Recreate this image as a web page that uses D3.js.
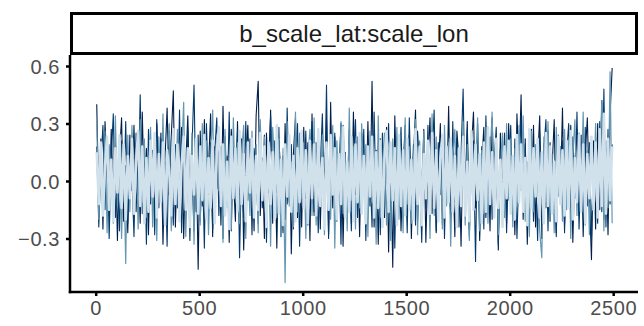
<!DOCTYPE html>
<meta charset="utf-8">
<style>
body { margin: 0; background: #fff; }
text { font-family: "Liberation Sans", Arial, Helvetica, sans-serif; }
.line { fill: none; stroke-linejoin: round; }
</style>
<body>
<script src="https://d3js.org/d3.v7.min.js"></script>
<script>

// one value every 10 iterations
const iterations = d3.range(5, 2500, 10);

const chain1 = [
  0.40,-0.12,0.22,-0.25,0.31,0.05,-0.18,0.27,-0.08,0.19,-0.31,0.14,0.33,-0.21,0.08,-0.27,0.24,-0.05,0.29,-0.16,0.11,-0.22,0.36,-0.09,0.17,
  -0.28,0.21,0.04,-0.19,0.30,-0.14,0.25,-0.33,0.12,0.38,-0.07,0.23,0.47,-0.24,0.15,-0.11,0.28,-0.30,0.09,0.34,-0.17,0.06,-0.26,0.20,-0.46,
  0.26,-0.13,0.32,-0.20,0.07,0.35,-0.29,0.18,-0.04,0.24,-0.23,0.39,-0.10,0.13,-0.32,0.27,0.02,-0.21,0.31,-0.15,0.22,-0.36,0.10,0.29,-0.08,
  0.19,-0.26,0.34,0.52,-0.18,0.12,-0.30,0.25,-0.06,0.37,-0.22,0.16,-0.35,0.21,0.03,-0.27,0.30,-0.12,0.24,-0.38,0.14,0.33,-0.19,0.08,-0.24,
  0.28,-0.09,0.20,-0.31,0.35,-0.16,0.11,0.26,-0.25,0.17,-0.03,0.32,-0.28,0.41,-0.14,0.23,-0.20,0.06,0.30,-0.34,0.15,-0.11,0.27,-0.22,0.36,
  -0.07,0.19,-0.29,0.25,0.09,-0.18,0.31,-0.13,0.52,-0.24,0.16,-0.33,0.22,0.04,-0.19,0.28,-0.37,0.13,-0.45,0.34,-0.10,0.21,-0.26,0.07,0.29,
  -0.15,0.24,-0.30,0.12,0.37,-0.21,0.18,-0.08,0.27,-0.32,0.10,0.33,-0.17,0.22,-0.27,0.05,0.30,-0.23,0.15,-0.12,0.39,-0.20,0.08,-0.29,0.26,
  0.11,-0.34,0.23,-0.06,0.31,-0.25,0.17,0.36,-0.14,0.20,-0.31,0.09,0.28,-0.19,0.14,-0.26,0.33,-0.03,0.21,-0.36,0.25,-0.11,0.18,-0.22,0.30,
  -0.16,0.13,-0.28,0.35,0.06,0.45,-0.20,0.22,-0.33,0.16,-0.09,0.29,-0.24,0.11,0.34,-0.30,0.19,-0.14,0.26,-0.21,0.07,0.32,-0.27,0.15,-0.05,
  0.38,-0.23,0.20,-0.13,0.29,-0.32,0.10,0.27,-0.18,0.24,-0.29,0.14,0.33,-0.08,-0.41,0.21,-0.25,0.30,-0.15,0.42,-0.20,0.17,-0.28,0.35,0.59
];

const chain2 = [
  0.18,-0.24,0.09,0.29,-0.15,0.23,-0.30,0.12,0.35,-0.19,0.06,-0.26,0.21,-0.11,0.31,-0.22,0.14,0.02,-0.29,0.25,-0.08,0.45,-0.17,0.20,-0.33,
  0.27,-0.12,0.16,-0.28,0.32,-0.05,0.22,-0.20,0.10,-0.34,0.26,0.04,-0.23,0.19,-0.14,0.37,-0.27,0.13,-0.09,0.28,-0.31,0.17,0.50,-0.16,0.24,
  -0.21,0.11,-0.35,0.30,-0.07,0.20,-0.25,0.15,0.33,-0.18,0.08,-0.30,0.23,-0.12,0.36,-0.26,0.18,-0.03,0.27,-0.40,0.12,-0.19,0.31,-0.10,0.22,
  -0.28,0.17,0.05,-0.22,0.29,-0.14,0.24,-0.32,0.10,0.34,-0.17,0.21,-0.06,0.28,-0.29,0.13,-0.20,0.38,-0.11,0.19,-0.25,0.07,0.30,-0.34,0.16,
  -0.09,0.26,-0.23,0.12,0.31,-0.18,0.20,-0.27,0.08,0.35,-0.13,0.50,-0.30,0.17,-0.04,0.25,-0.21,0.14,-0.33,0.29,0.03,-0.16,0.22,-0.26,0.11,
  0.32,-0.19,0.15,-0.08,0.27,-0.31,0.21,0.06,-0.24,0.36,-0.12,0.18,-0.28,0.25,-0.15,0.09,0.30,-0.22,0.13,-0.35,0.23,-0.02,0.28,-0.18,0.10,
  -0.27,0.33,-0.10,0.19,-0.23,0.26,0.07,-0.32,0.16,-0.14,0.29,-0.20,0.12,0.37,-0.26,0.20,-0.07,0.24,-0.30,0.15,0.04,-0.19,0.31,-0.11,0.22,
  -0.24,0.14,0.48,-0.16,0.27,-0.29,0.09,0.21,-0.42,0.30,-0.12,0.18,-0.25,0.34,-0.06,0.23,-0.20,0.11,0.28,-0.33,0.17,-0.09,0.25,-0.27,0.13,
  0.29,-0.18,0.22,-0.30,0.08,0.34,-0.14,0.19,-0.24,0.12,0.27,-0.21,0.05,-0.31,0.25,-0.10,0.16,0.32,-0.26,0.20,-0.16,0.10,-0.29,0.24,-0.06,
  0.21,-0.27,0.14,0.30,-0.17,0.23,-0.09,0.36,-0.25,0.11,-0.19,0.28,-0.13,0.20,-0.32,0.15,0.04,-0.22,0.31,-0.16,0.48,-0.24,0.27,-0.12,0.19
];

const chain3 = [
  0.31,-0.20,0.13,-0.08,0.26,-0.27,0.19,0.04,-0.22,0.34,-0.13,0.21,-0.30,0.10,-0.43,0.24,-0.16,0.29,-0.05,0.17,-0.25,0.32,-0.11,0.22,-0.19,
  0.08,0.28,-0.24,0.16,-0.31,0.23,-0.10,0.35,-0.18,0.12,0.30,-0.26,0.19,-0.07,0.27,-0.21,0.14,0.41,-0.29,0.06,-0.15,0.25,-0.33,0.18,0.03,
  -0.23,0.30,-0.12,0.21,-0.28,0.11,0.37,-0.17,0.24,-0.05,0.18,-0.32,0.27,-0.14,0.09,-0.25,0.33,-0.08,0.20,-0.22,0.15,0.29,-0.30,0.12,-0.18,
  0.26,-0.11,0.19,-0.27,0.32,-0.06,0.23,-0.21,0.14,-0.34,0.28,0.07,-0.19,0.22,-0.29,0.17,-0.53,0.31,-0.13,0.10,-0.24,0.36,-0.16,0.25,-0.09,
  0.20,-0.30,0.12,0.27,-0.18,0.33,-0.23,0.09,-0.12,0.24,-0.28,0.17,0.05,-0.20,0.29,-0.35,0.21,-0.07,0.31,-0.17,0.14,-0.26,0.38,-0.10,0.18,
  -0.25,0.23,-0.14,0.30,-0.04,0.19,-0.29,0.26,-0.11,0.13,-0.33,0.34,-0.19,0.08,0.25,-0.23,0.16,-0.31,0.22,-0.08,0.28,-0.20,0.11,-0.27,0.33,
  -0.12,0.18,-0.22,0.09,0.32,-0.28,0.21,-0.15,0.26,-0.06,0.14,-0.30,0.35,-0.18,0.23,-0.09,0.17,-0.25,0.29,-0.13,0.20,-0.34,0.12,0.27,-0.20,
  0.15,-0.07,0.31,-0.23,0.19,-0.31,0.24,-0.12,0.08,0.33,-0.26,0.16,-0.17,0.28,-0.22,0.11,0.36,-0.14,0.21,-0.28,0.06,0.25,-0.19,0.30,-0.10,
  0.22,-0.24,0.17,-0.13,0.29,-0.05,0.34,-0.21,0.10,-0.29,0.26,-0.16,0.19,0.02,-0.26,-0.40,0.23,-0.11,0.31,-0.20,0.14,-0.27,0.28,-0.08,0.18,
  -0.21,0.27,-0.15,0.20,-0.30,0.13,0.32,-0.18,0.25,-0.07,0.36,-0.23,0.16,-0.28,0.22,-0.12,0.30,-0.19,0.09,0.42,-0.26,0.21,-0.14,0.57,-0.22
];

const chain4 = [
  0.15,-0.12,0.20,-0.18,0.08,0.23,-0.15,0.11,-0.21,0.17,-0.06,0.24,-0.14,0.19,-0.20,0.13,-0.09,0.22,-0.17,0.10,0.26,-0.13,0.18,-0.22,0.12,
  -0.16,0.21,-0.08,0.25,-0.19,0.14,-0.11,0.20,-0.23,0.16,0.05,-0.18,0.27,-0.12,0.19,-0.21,0.09,0.23,-0.15,0.17,-0.24,0.13,-0.07,0.22,-0.17,
  0.18,-0.10,0.24,-0.20,0.12,-0.14,0.21,-0.22,0.16,0.28,-0.13,0.19,-0.18,0.10,-0.25,0.23,-0.09,0.17,-0.16,0.26,-0.12,0.14,-0.21,0.20,-0.06,
  0.22,-0.19,0.13,-0.15,0.25,-0.10,0.18,-0.24,0.20,-0.12,0.15,-0.20,0.29,-0.17,0.11,-0.23,0.19,-0.08,0.24,-0.16,0.13,-0.21,0.17,-0.11,0.26,
  -0.14,0.16,-0.22,0.21,-0.09,0.19,-0.18,0.27,-0.13,0.12,-0.25,0.20,-0.15,0.24,-0.07,0.17,-0.20,0.14,-0.12,0.28,-0.19,0.10,-0.16,0.23,-0.21,
  0.19,-0.11,0.25,-0.17,0.13,-0.22,0.18,-0.08,0.23,-0.19,0.15,-0.14,0.21,-0.24,0.12,0.26,-0.16,0.20,-0.10,0.17,-0.23,0.24,-0.13,0.16,-0.18,
  0.22,-0.15,0.11,-0.20,0.27,-0.12,0.18,-0.23,0.14,-0.09,0.21,-0.17,0.25,-0.14,0.16,-0.21,0.12,0.24,-0.19,0.18,-0.11,0.22,-0.16,0.13,-0.24,
  0.17,-0.13,0.23,-0.18,0.10,-0.21,0.26,-0.15,0.19,-0.10,0.14,-0.22,0.20,-0.16,0.28,-0.12,0.15,-0.19,0.22,-0.14,0.11,-0.24,0.18,-0.09,0.21,
  -0.17,0.13,-0.20,0.24,-0.11,0.19,-0.16,0.12,-0.23,0.27,-0.14,0.17,-0.08,0.22,-0.19,0.15,-0.22,0.25,-0.13,0.18,-0.17,0.10,-0.21,0.23,-0.12,
  0.16,-0.18,0.21,-0.14,0.26,-0.20,0.12,-0.11,0.24,-0.16,0.19,-0.22,0.14,-0.09,0.23,-0.15,0.20,-0.19,0.27,-0.13,0.35,-0.17,0.22,-0.10,0.18
];

const chainColors = ["#011f4b", "#03396c", "#6497b1", "#d1e1ec"];
const chainWidths = [1.1, 1.1, 1.2, 2.6];
const xTicks = [0, 500, 1000, 1500, 2000, 2500];
const yTicks = [-0.3, 0.0, 0.3, 0.6];
const stripLabel = "b_scale_lat:scale_lon";

const width = 644, height = 326;
const panel = {left: 70, right: 638, top: 55, bottom: 292};

const svg = d3.select("body").append("svg")
    .attr("width", width)
    .attr("height", height);

const x = d3.scaleLinear()
    .domain([0, 2500])
    .range([95.7, 613.2]);

const y = d3.scaleLinear()
    .domain([-0.6, 0.6])
    .range([296, 66]);

const line = d3.line()
    .x((d, i) => x(iterations[i]))
    .y(d => y(d));

// chains, first drawn first, light one on top
svg.append("g")
  .selectAll("path")
  .data([chain1, chain2, chain3, chain4])
  .join("path")
    .attr("class", "line")
    .attr("d", line)
    .attr("stroke", (d, i) => chainColors[i])
    .attr("stroke-width", (d, i) => chainWidths[i]);

// strip
svg.append("rect")
    .attr("x", panel.left + 1.5)
    .attr("y", 13.5)
    .attr("width", panel.right - panel.left - 3)
    .attr("height", 40)
    .attr("fill", "#fff")
    .attr("stroke", "#000")
    .attr("stroke-width", 3);

svg.append("text")
    .attr("x", (panel.left + panel.right) / 2)
    .attr("y", 42)
    .attr("text-anchor", "middle")
    .attr("font-size", 24)
    .attr("fill", "#1a1a1a")
    .text(stripLabel);

// axes
const yAxis = d3.axisLeft(y)
    .tickValues(yTicks)
    .tickFormat(d3.format(".1f"))
    .tickSize(4)
    .tickPadding(6);

const xAxis = d3.axisBottom(x)
    .tickValues(xTicks)
    .tickFormat(d3.format("d"))
    .tickSize(4)
    .tickPadding(5);

const gy = svg.append("g")
    .attr("transform", `translate(${panel.left},0)`)
    .call(yAxis);

const gx = svg.append("g")
    .attr("transform", `translate(0,${panel.bottom})`)
    .call(xAxis);

[gx, gy].forEach(g => {
  g.select(".domain").remove();
  g.selectAll(".tick line").attr("stroke", "#000").attr("stroke-width", 2.5);
  g.selectAll(".tick text")
      .attr("font-size", 20)
      .attr("letter-spacing", 0.6)
      .attr("fill", "#4d4d4d")
      .attr("font-family", "'Liberation Sans', Arial, sans-serif");
});

gy.selectAll(".tick text").attr("dy", "0.36em");

svg.append("line")
    .attr("x1", panel.left).attr("x2", panel.left)
    .attr("y1", panel.top).attr("y2", panel.bottom + 1.2)
    .attr("stroke", "#000").attr("stroke-width", 2.5);

svg.append("line")
    .attr("x1", panel.left - 1.2).attr("x2", panel.right)
    .attr("y1", panel.bottom).attr("y2", panel.bottom)
    .attr("stroke", "#000").attr("stroke-width", 2.5);

</script>
</body>
